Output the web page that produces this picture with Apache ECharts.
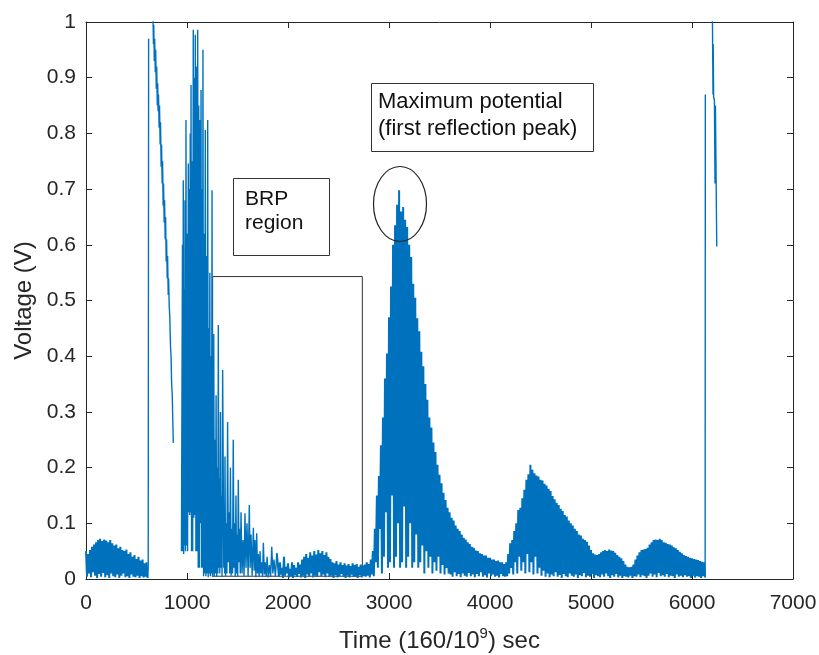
<!DOCTYPE html>
<html>
<head>
<meta charset="utf-8">
<script src="https://cdn.jsdelivr.net/npm/echarts@6/dist/echarts.min.js"></script>
<style>
  html, body { margin: 0; padding: 0; background: #fff; }
  #chart { width: 819px; height: 655px; }
</style>
</head>
<body>
<div id="chart"></div>
<script>
// Tick values of both axes
const xTicks = [0, 1000, 2000, 3000, 4000, 5000, 6000, 7000];
const yTicks = [0, 0.1, 0.2, 0.3, 0.4, 0.5, 0.6, 0.7, 0.8, 0.9, 1];

// Quiet baseline before the launch pulse: peaks at t = 0, 20, ... 600, troughs halfway between
const preStart = 0, preStep = 10;
const prePeaks = [0.05,0.045,0.052,0.058,0.062,0.066,0.07,0.072,0.068,0.071,
  0.069,0.066,0.07,0.064,0.06,0.062,0.055,0.058,0.052,0.05,
  0.053,0.045,0.048,0.04,0.043,0.036,0.04,0.033,0.035,0.028,0.03];
const preTroughs = [0.004,0.01,0.003,0.012,0.006,0.002,0.009,0.004,0.011,0.003,
  0.007,0.002,0.01,0.005,0.003,0.008,0.002,0.006,0.01,0.003,
  0.005,0.002,0.008,0.004,0.003,0.006,0.002,0.005,0.003,0.004,0.002];

// Launch pulse: jump to saturation, then the sweep down ('-' marks a break in the record)
const pulseTime = [616, 620, 621, 660, 664, 668, 671, 676, 680, 686, 690, 696, 700, 706, 710, 714, 718,
  724, 728, 734, 738, 744, 748, 754, 758, 764, 768, 774, 778, 784, 788, 794, 798, 804, 808, 814, 818,
  824, 830, 836, 842, 848, 854, 860, 864, 865];
const pulseVolt = [0.02, 0.97, '-', 1.1, 1.0, 0.96, 0.995, 0.93, 0.97, 0.91, 0.95, 0.88, 0.92, 0.85, 0.89, 0.84, 0.87,
  0.81, 0.85, 0.78, 0.82, 0.74, 0.78, 0.71, 0.75, 0.67, 0.71, 0.64, 0.68, 0.61, 0.65, 0.57, 0.61, 0.54, 0.58, 0.51, 0.54,
  0.49, 0.47, 0.42, 0.40, 0.35, 0.33, 0.28, 0.244, '-'];

// Ringing burst and its decay into the BRP region
const burstTime = [945, 955, 959, 963, 967, 972, 976, 980, 985, 990, 995, 1000, 1006, 1013, 1018, 1022,
  1027, 1032, 1036, 1040, 1045, 1050, 1056, 1062, 1067, 1072, 1077, 1082, 1088, 1094, 1100, 1106, 1111,
  1116, 1122, 1129, 1134, 1139, 1143, 1148, 1153, 1158, 1164, 1170, 1175, 1181, 1187, 1193, 1199, 1205,
  1210, 1215, 1220, 1226, 1231, 1236, 1242, 1248, 1252, 1256, 1260, 1265, 1270, 1276, 1282, 1288, 1294,
  1300, 1305, 1310, 1315, 1320, 1325, 1331, 1336, 1342, 1347, 1353, 1364, 1370, 1373, 1376, 1382, 1389,
  1395, 1402, 1409, 1416, 1423, 1430, 1437, 1444, 1451, 1458, 1465, 1471, 1478, 1485, 1490, 1496, 1502,
  1508, 1515, 1522, 1528, 1535, 1545, 1555, 1565, 1574, 1584, 1594, 1605, 1617, 1625, 1634, 1645, 1657,
  1665, 1673, 1682, 1690, 1698, 1706, 1714, 1723, 1731, 1740, 1748, 1756, 1766, 1775, 1784, 1793, 1804,
  1816, 1828, 1839, 1850, 1861, 1875, 1889];
const burstVolt = [0.05, 0.60, 0.05, 0.716, 0.045, 0.52, 0.06, 0.68, 0.05, 0.824, 0.06, 0.62, 0.05, 0.746, 0.12, 0.70,
  0.115, 0.80, 0.12, 0.887, 0.05, 0.75, 0.05, 0.986, 0.11, 0.90, 0.115, 0.977, 0.05, 0.92, 0.05, 0.986, 0.02,
  0.85, 0.02, 0.824, 0.1, 0.878, 0.02, 0.70, 0.02, 0.95, 0.005, 0.62, 0.01, 0.806, 0.005, 0.58, 0.01, 0.824,
  0.003, 0.45, 0.01, 0.55, 0.005, 0.40, 0.01, 0.698, 0.004, 0.30, 0.01, 0.44, 0.005, 0.25, 0.01, 0.33, 0.004,
  0.20, 0.01, 0.456, 0.02, 0.18, 0.01, 0.30, 0.02, 0.15, 0.004, 0.375, 0.02, 0.12, 0.01, 0.22, 0.005, 0.10,
  0.01, 0.282, 0.03, 0.12, 0.01, 0.20, 0.006, 0.09, 0.01, 0.25, 0.02, 0.10, 0.004, 0.15, 0.01, 0.08, 0.004,
  0.178, 0.03, 0.09, 0.01, 0.12, 0.01, 0.07, 0.005, 0.118, 0.02, 0.10, 0.004, 0.133, 0.02, 0.08, 0.006, 0.092,
  0.015, 0.07, 0.003, 0.082, 0.01, 0.045, 0.004, 0.05, 0.01, 0.03, 0.004, 0.065, 0.008, 0.03, 0.004, 0.04, 0.003,
  0.025, 0.004, 0.058, 0.01, 0.035, 0.004, 0.046];

// Residual floor inside the BRP region: peaks at t = 1900, 1920, ... 2740
const floorStart = 1900, floorStep = 10;
const floorPeaks = [0.025,0.03,0.02,0.04,0.022,0.028,0.018,0.03,0.025,0.02,
  0.03,0.026,0.035,0.04,0.045,0.038,0.048,0.042,0.05,0.044,
  0.052,0.046,0.05,0.043,0.048,0.04,0.036,0.03,0.028,0.032,
  0.026,0.03,0.025,0.028,0.024,0.027,0.023,0.028,0.025,0.027,
  0.022,0.026,0.024];
const floorTroughs = [0.004,0.008,0.002,0.006,0.01,0.003,0.005,0.002,0.007,0.004,
  0.009,0.003,0.006,0.002,0.008,0.005,0.01,0.003,0.006,0.004,
  0.012,0.005,0.008,0.003,0.01,0.004,0.006,0.002,0.007,0.003,
  0.005,0.009,0.004,0.002,0.006,0.003,0.008,0.004,0.005,0.002,
  0.007,0.003,0.005];

// Reflection peaks: peaks at t = 2760, 2780, ... 6120
const echoStart = 2760, echoStep = 10;
const echoPeaks = [
  0.026,0.03,0.027,0.035,0.05,0.09,0.15,0.185,0.24,0.29,
  0.36,0.405,0.47,0.525,0.6,0.635,0.672,0.698,0.66,0.668,
  0.645,0.632,0.6,0.578,0.53,0.505,0.468,0.445,0.408,0.382,
  0.35,0.322,0.29,0.272,0.245,0.228,0.205,0.187,0.172,0.155,
  0.142,0.128,0.12,0.11,0.105,0.096,0.09,0.086,0.08,0.074,
  0.071,0.066,0.063,0.058,0.056,0.051,0.05,0.046,0.045,0.042,
  0.042,0.038,0.038,0.035,0.035,0.032,0.033,0.03,0.03,0.027,
  0.03,0.045,0.064,0.07,0.086,0.1,0.124,0.128,0.145,0.16,
  0.178,0.188,0.205,0.196,0.19,0.186,0.184,0.178,0.177,0.171,
  0.168,0.162,0.158,0.149,0.143,0.137,0.133,0.126,0.122,0.115,
  0.112,0.105,0.1,0.096,0.09,0.086,0.08,0.078,0.072,0.07,
  0.067,0.06,0.052,0.046,0.044,0.043,0.045,0.048,0.05,0.052,
  0.05,0.053,0.051,0.05,0.047,0.043,0.04,0.037,0.032,0.026,
  0.022,0.021,0.022,0.026,0.035,0.042,0.048,0.052,0.053,0.054,
  0.056,0.062,0.066,0.07,0.071,0.07,0.072,0.07,0.066,0.065,
  0.063,0.062,0.06,0.057,0.055,0.052,0.049,0.046,0.043,0.041,
  0.04,0.038,0.037,0.036,0.035,0.034,0.032,0.031,0.03];
const echoTroughs = [
  0.004,0.006,0.003,0.008,0.005,0.03,0.02,0.09,0.01,0.04,
  0.12,0.02,0.03,0.15,0.02,0.04,0.1,0.02,0.03,0.13,
  0.02,0.04,0.1,0.02,0.03,0.08,0.02,0.03,0.06,0.01,
  0.05,0.02,0.04,0.01,0.03,0.015,0.04,0.01,0.025,0.008,
  0.02,0.01,0.008,0.004,0.012,0.005,0.009,0.003,0.01,0.006,
  0.004,0.011,0.005,0.008,0.003,0.009,0.005,0.012,0.004,0.007,
  0.003,0.01,0.005,0.008,0.004,0.006,0.003,0.009,0.005,0.004,
  0.005,0.01,0.02,0.008,0.03,0.01,0.04,0.015,0.03,0.01,
  0.045,0.012,0.03,0.008,0.04,0.01,0.02,0.006,0.015,0.004,
  0.01,0.003,0.008,0.005,0.012,0.004,0.007,0.002,0.009,0.005,
  0.003,0.01,0.006,0.004,0.008,0.002,0.007,0.005,0.011,0.003,
  0.006,0.004,0.009,0.002,0.007,0.005,0.003,0.008,0.004,0.01,
  0.005,0.002,0.007,0.004,0.009,0.003,0.006,0.002,0.005,0.004,
  0.003,0.006,0.002,0.005,0.004,0.008,0.003,0.007,0.005,0.002,
  0.006,0.01,0.004,0.008,0.003,0.011,0.005,0.007,0.004,0.009,
  0.003,0.006,0.005,0.002,0.008,0.004,0.006,0.003,0.007,0.004,
  0.005,0.002,0.006,0.003,0.005,0.004,0.002,0.005,0.003];

// Second launch pulse at the end of the record
const tailTime = [6132, 6133, 6198, 6203, 6208, 6210, 6214, 6222, 6228, 6232, 6245];
const tailVolt = [0.87, '-', 1.05, 0.99, 0.87, 0.96, 0.865, 0.86, 0.71, 0.85, 0.597];

// BRP region box (time range, voltage range)
const brpBox = { t0: 1254, t1: 2736, v0: 0.005, v1: 0.543 };

function zigzag(start, step, peaks, troughs) {
  const pts = [];
  for (let i = 0; i < peaks.length; i++) {
    pts.push([start + 2 * i * step, peaks[i]]);
    if (i < troughs.length) pts.push([start + (2 * i + 1) * step, troughs[i]]);
  }
  return pts;
}
function pairs(ts, vs) { return ts.map((t, i) => [t, vs[i]]); }

const preData = zigzag(preStart, preStep, prePeaks, preTroughs);
const pulseData = pairs(pulseTime, pulseVolt);
const burstData = pairs(burstTime, burstVolt);
const floorData = zigzag(floorStart, floorStep, floorPeaks, floorTroughs);
const echoData = zigzag(echoStart, echoStep, echoPeaks, echoTroughs);
const tailData = pairs(tailTime, tailVolt);

// Densely ringing stretches, drawn heavier so the oscillation reads as a filled band
const denseSignal = [].concat(preData, [[900, '-']], burstData.slice(-1), floorData, echoData);
// Sparse stretches: pulses and the burst, joined to their neighbours
const sparseSignal = [].concat(preData.slice(-1), pulseData, burstData, [[6000, '-']],
  echoData.slice(-1), tailData);

const FONT = '"Liberation Sans", Arial, Helvetica, sans-serif';
const AX = '#262626';
const LINE = '#0072BD';

const chart = echarts.init(document.getElementById('chart'));
const axisCommon = {
  type: 'value',
  splitLine: { show: false },
  axisLine: { show: true, onZero: false, lineStyle: { color: AX, width: 1 } },
  axisTick: { show: true, inside: true, length: 6, lineStyle: { color: AX, width: 1 } }
};

chart.setOption({
  animation: false,
  backgroundColor: '#fff',
  grid: { left: 86, right: 26, top: 22, bottom: 76, containLabel: false, outerBoundsMode: 'none' },
  xAxis: [
    Object.assign({}, axisCommon, {
      position: 'bottom', min: xTicks[0], max: xTicks[xTicks.length - 1], interval: 1000,
      axisLabel: { fontSize: 21, color: AX, margin: 14, fontFamily: FONT, formatter: v => String(v) },
      name: 'Time (160/10{sup|9}) sec',
      nameLocation: 'middle', nameGap: 47,
      nameTextStyle: {
        fontSize: 24, color: AX, fontFamily: FONT, lineHeight: 30,
        rich: { sup: { fontSize: 15, fontFamily: FONT, color: AX, verticalAlign: 'top', lineHeight: 15 } }
      }
    }),
    Object.assign({}, axisCommon, {
      position: 'top', min: xTicks[0], max: xTicks[xTicks.length - 1], interval: 1000,
      axisLabel: { show: false }
    })
  ],
  yAxis: [
    Object.assign({}, axisCommon, {
      position: 'left', min: yTicks[0], max: yTicks[yTicks.length - 1], interval: 0.1,
      axisLabel: { fontSize: 21, color: AX, margin: 10, fontFamily: FONT },
      name: 'Voltage (V)', nameLocation: 'middle', nameGap: 50, nameRotate: 90,
      nameTextStyle: { fontSize: 24, color: AX, fontFamily: FONT }
    }),
    Object.assign({}, axisCommon, {
      position: 'right', min: yTicks[0], max: yTicks[yTicks.length - 1], interval: 0.1,
      axisLabel: { show: false }
    })
  ],
  series: [
    {
      type: 'line', data: denseSignal, xAxisIndex: 0, yAxisIndex: 0,
      showSymbol: false, symbol: 'none', clip: true, connectNulls: false,
      lineStyle: { color: LINE, width: 2 }, z: 2
    },
    {
      type: 'line', data: sparseSignal, xAxisIndex: 0, yAxisIndex: 0,
      showSymbol: false, symbol: 'none', clip: true, connectNulls: false,
      lineStyle: { color: LINE, width: 1.4 }, z: 2
    },
    {
      type: 'line', data: [], xAxisIndex: 0, yAxisIndex: 0, z: 5,
      markArea: {
        silent: true,
        itemStyle: { color: 'rgba(0,0,0,0)', borderColor: '#333', borderWidth: 1 },
        data: [[{ coord: [brpBox.t0, brpBox.v0] }, { coord: [brpBox.t1, brpBox.v1] }]]
      }
    }
  ],
  graphic: [
    { type: 'rect', shape: { x: 233.5, y: 178.5, width: 96, height: 77 },
      style: { fill: '#fff', stroke: '#333', lineWidth: 1 }, z: 10 },
    { type: 'text', x: 245, y: 199, z: 11,
      style: { text: 'BRP', font: '21px ' + FONT, fill: '#111', verticalAlign: 'middle' } },
    { type: 'text', x: 245, y: 223, z: 11,
      style: { text: 'region', font: '21px ' + FONT, fill: '#111', verticalAlign: 'middle' } },
    { type: 'rect', shape: { x: 371.5, y: 83.5, width: 222, height: 68 },
      style: { fill: '#fff', stroke: '#333', lineWidth: 1 }, z: 10 },
    { type: 'text', x: 378, y: 102, z: 11,
      style: { text: 'Maximum potential', font: '22px ' + FONT, fill: '#111', verticalAlign: 'middle' } },
    { type: 'text', x: 378, y: 129, z: 11,
      style: { text: '(first reflection peak)', font: '22px ' + FONT, fill: '#111', verticalAlign: 'middle' } },
    { type: 'ellipse', shape: { cx: 400, cy: 204, rx: 26.5, ry: 37.5 },
      style: { fill: 'none', stroke: '#222', lineWidth: 1.2 }, z: 10 }
  ]
});
</script>
</body>
</html>
